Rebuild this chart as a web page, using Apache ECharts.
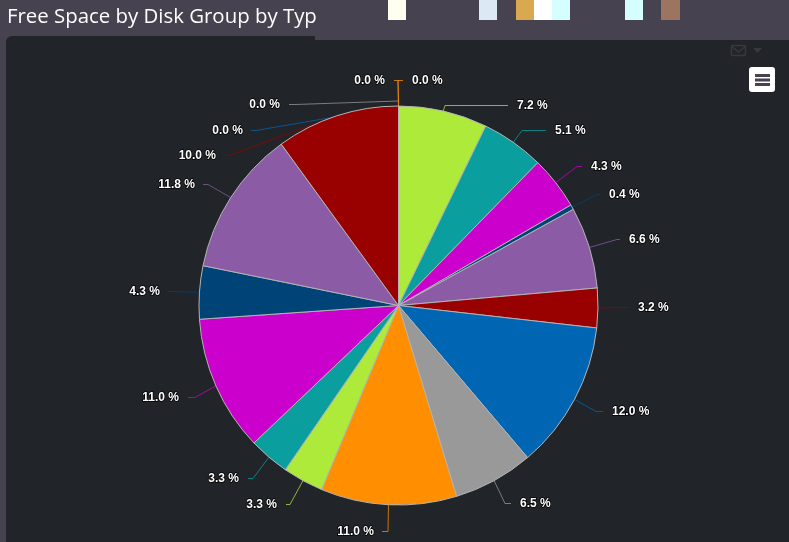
<!DOCTYPE html>
<html><head><meta charset="utf-8">
<style>html,body{margin:0;padding:0;background:#47424f;overflow:hidden}#c{width:789px;height:542px}</style>
<script src="https://cdn.jsdelivr.net/npm/echarts@6/dist/echarts.min.js"></script>
</head><body><div id="c"></div>
<script>
const sliceValues = [7.2,5.1,4.3,0.4,6.6,3.2,12.0,6.5,11.0,3.3,3.3,11.0,4.3,11.8,10.0,0.0,0.0,0.0,0.0];
const sliceColors = ['#aeea3a','#0a9e9e','#cc00cc','#004477','#8b5ca5','#990000','#0066b3','#999999','#ff8f00','#aeea3a','#0a9e9e','#cc00cc','#004477','#8b5ca5','#990000','#0066b3','#999999','#ff8f00','#ff8f00'];
const titleText = 'Free Space by Disk Group by Typ';
// label placement: [text edge x, y, elbow x, line end x, line start lift]
const labelSpots = [
 [517,105,445,508,0],[555,130,522,546,0],[591,166,577,582,0],[609,194,597,600,0],[629,239,617,620,0],
 [638,307,625,630,0],[612,411,596,603,0],[520,503,505,511,0],[374,531,388,382,0],[277,504,290,286,0],
 [239,478,253,248,0],[179,397,195,188,0],[160,291,172,168,0],[195,184,208,203,0],[216,155,229,225,0],
 [243,130,256,251,0],[280,104,295,289,5],[385,80,398,394,0],[412,80,398,403,0]];
const stripes = [[388,18,'#fffff0'],[479,18,'#dce8f4'],[516,18,'#daa850'],[534,18,'#ffffff'],[552,18,'#d5ffff'],[625,18,'#d5ffff'],[661,19,'#9c7560']];
const chart = echarts.init(document.getElementById('c'),null,{renderer:'canvas'});
const cx=398.5, cy=305.5, R=199.5;
const stripeEls = stripes.map(s=>({type:'rect',shape:{x:s[0],y:0,width:s[1],height:20},style:{fill:s[2]},silent:true}));
chart.setOption({
 animation:false,
 backgroundColor:'#47424f',
 graphic:[
  {type:'rect',z:-1,shape:{x:6,y:36,width:800,height:540,r:6},style:{fill:'#212429'},silent:true},
  {type:'rect',z:-1,shape:{x:315,y:0,width:480,height:40},style:{fill:'#47424f'},silent:true},
  ...stripeEls,
  {type:'text',x:7,y:17,style:{text:titleText,fill:'#ffffff',font:'20.4px "Open Sans"',textVerticalAlign:'middle'},silent:true},
  {type:'rect',shape:{x:749,y:67,width:26,height:25,r:3},style:{fill:'#ffffff'},silent:true},
  {type:'rect',shape:{x:755,y:74,width:15,height:3},style:{fill:'#47424f'},silent:true},
  {type:'rect',shape:{x:755,y:78.5,width:15,height:3},style:{fill:'#47424f'},silent:true},
  {type:'rect',shape:{x:755,y:83,width:15,height:3},style:{fill:'#47424f'},silent:true},
  {type:'rect',shape:{x:731.5,y:45.5,width:14,height:10,r:1},style:{fill:'none',stroke:'#3a3741',lineWidth:1.5},silent:true},
  {type:'polyline',shape:{points:[[732,46.5],[738.5,52],[745,46.5]]},style:{fill:'none',stroke:'#3a3741',lineWidth:1.5},silent:true},
  {type:'polygon',shape:{points:[[753,48],[762,48],[757.5,53]]},style:{fill:'#3a3741'},silent:true}
 ],
 series:[{
  type:'pie',
  center:[cx,cy],radius:[0,R],startAngle:90,clockwise:true,
  avoidLabelOverlap:false,minShowLabelAngle:0,stillShowZeroSum:true,
  data:sliceValues.map((v,i)=>({value:v,name:'s'+i,itemStyle:{color:sliceColors[i]}})),
  itemStyle:{borderColor:'#b4b4b4',borderWidth:1},
  emphasis:{disabled:true},
  label:{show:true,position:'outside',formatter:p=>p.value.toFixed(1)+' %',color:'#ffffff',fontFamily:'"Liberation Sans"',fontWeight:'bold',fontSize:12,textBorderColor:'#000000',textBorderWidth:1.5},
  labelLine:{show:true,length:20,length2:8,smooth:false,lineStyle:{width:1,opacity:0.75}},
  labelLayout:function(p){
    const s=labelSpots[p.dataIndex];
    const alignRight=s[3]>s[0];
    const p0=(p.labelLinePoints&&p.labelLinePoints[0])||[cx,cy-R];
    const start=[p0[0],p0[1]-s[4]];
    const ly=s[1]+0.5;
    return {x:s[0],y:s[1]+1,align:alignRight?'right':'left',verticalAlign:'middle',hideOverlap:false,moveOverlap:false,
      labelLinePoints:[start,[s[2],ly],[s[3],ly]]};
  }
 }]
});
</script></body></html>
